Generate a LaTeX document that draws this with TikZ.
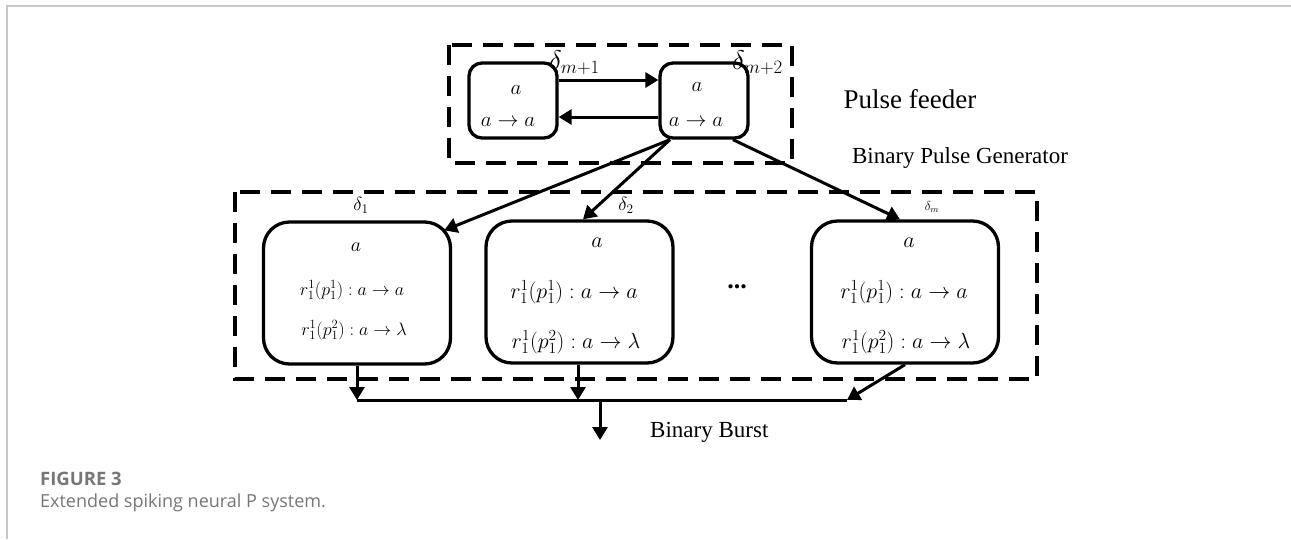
\RequirePackage{fix-cm}
\documentclass[tikz,border=0pt]{standalone}
\usepackage{amsmath,amssymb}
\usepackage{fontspec}
\setmainfont{Liberation Serif}
\newfontfamily\capfont{Open Sans}
\usetikzlibrary{arrows.meta}

\definecolor{framegray}{RGB}{200,200,200}
\definecolor{capgray}{RGB}{118,118,118}

\tikzset{
  arr/.style={line width=3pt, -{Triangle[length=13pt,width=15pt]}},
  groupbox/.style={line width=3.3pt, dash pattern=on 20pt off 11pt},
  pfneuron/.style={draw, line width=3.3pt, rounded corners=13pt, minimum width=88pt, minimum height=75pt, inner sep=0pt},
  genneuron/.style={draw, line width=3.3pt, rounded corners=26pt, minimum width=187pt, minimum height=142pt, inner sep=0pt},
  lbl/.style={inner sep=0pt, font=\fontsize{#1}{#1}\selectfont},
}

\begin{document}
\begin{tikzpicture}[x=1pt,y=-1pt]
\useasboundingbox (0,0) rectangle (1291,539);
% Drawing the page frame
\draw[framegray, line width=1.5pt] (7,539) -- (7,6) -- (1291,6);
% Drawing group boxes
\draw[groupbox] (449,45) rectangle (792,163);
\draw[groupbox] (235,192) rectangle (1037,379);
\node[lbl=27] (feedertxt) at (910,99) {Pulse feeder};
\node[lbl=23] (gentxt) at (960,158) {Binary Pulse Generator};
% Done with group boxes; drawing the pulse feeder
\node[pfneuron] (pf1) at (513,100.5) {};
\node[lbl=21] (pf1a) at (516,90) {$a$};
\node[lbl=21] (pf1r) at (508,122) {$a\rightarrow a$};
\node[lbl=27, anchor=west] (pf1d) at (549,63) {$\delta_{m+1}$};
\node[pfneuron] (pf2) at (704,100.5) {};
\node[lbl=21] (pf2a) at (697,87) {$a$};
\node[lbl=21] (pf2r) at (696,122) {$a\rightarrow a$};
\node[lbl=27, anchor=west] (pf2d) at (732,63) {$\delta_{m+2}$};
\draw[arr] ([yshift=20.5pt]pf1.east) -- ([yshift=20.5pt]pf2.west);
\draw[arr] ([yshift=-16.5pt]pf2.west) -- ([yshift=-16.5pt]pf1.east);
% Done with pulse feeder; drawing the generator neurons
% Neuron 1
\node[genneuron] (n1) at (357,293) {};
\node[lbl=19] (n1d) at (361,205) {$\delta_1$};
\node[lbl=20] (n1a) at (356,247) {$a$};
\node[lbl=18] (n1r1) at (352,290) {$r_1^1(p_1^1):a\rightarrow a$};
\node[lbl=18] (n1r2) at (354,330) {$r_1^1(p_1^2):a\rightarrow \lambda$};
% Neuron 2
\node[genneuron] (n2) at (579.5,292) {};
\node[lbl=19] (n2d) at (626,205) {$\delta_2$};
\node[lbl=22] (n2a) at (597,243) {$a$};
\node[lbl=22] (n2r1) at (574,292) {$r_1^1(p_1^1):a\rightarrow a$};
\node[lbl=22] (n2r2) at (576,342) {$r_1^1(p_1^2):a\rightarrow \lambda$};
% Dots
\node[lbl=26] (dots) at (737,287) {\textbf{...}};
% Neuron m
\node[genneuron] (nm) at (905,292) {};
\node[lbl=13] (nmd) at (932,207) {$\delta_m$};
\node[lbl=22] (nma) at (909,243) {$a$};
\node[lbl=22] (nmr1) at (904,292) {$r_1^1(p_1^1):a\rightarrow a$};
\node[lbl=22] (nmr2) at (906,342) {$r_1^1(p_1^2):a\rightarrow \lambda$};
% Done with neurons; drawing synapses
\draw[arr] ([xshift=-34pt]pf2.south) -- ([xshift=-8pt,yshift=-10pt]n1.north east);
\draw[arr] ([xshift=-34pt]pf2.south) -- ([xshift=3.5pt]n2.north);
\draw[arr] ([xshift=29pt]pf2.south) -- ([xshift=-5pt]nm.north);
% Drawing output bus
\coordinate (b1) at (357,400);
\coordinate (bm) at (847,400);
\coordinate (bout) at (600,400);
\coordinate (out) at (600,440);
\draw[arr] (n1.south) -- (b1);
\draw[arr] ([xshift=-1.5pt]n2.south) -- (b1 -| 578,0);
\draw[arr] (nm.south) -- (bm);
\draw[line width=3pt] (b1) -- (bm);
\draw[arr] (bout) -- (out);
\node[lbl=23, anchor=west] (bursttxt) at (650,432) {Binary Burst};
% Done with bus; drawing caption
\node[anchor=west, inner sep=0pt, text=capgray, font=\capfont\bfseries\fontsize{18.5}{18.5}\selectfont] (figno) at (40,479) {FIGURE 3};
\node[anchor=west, inner sep=0pt, text=capgray, font=\capfont\fontsize{18}{18}\selectfont] (figcap) at (40,503) {Extended spiking neural P system.};
\end{tikzpicture}
\end{document}
